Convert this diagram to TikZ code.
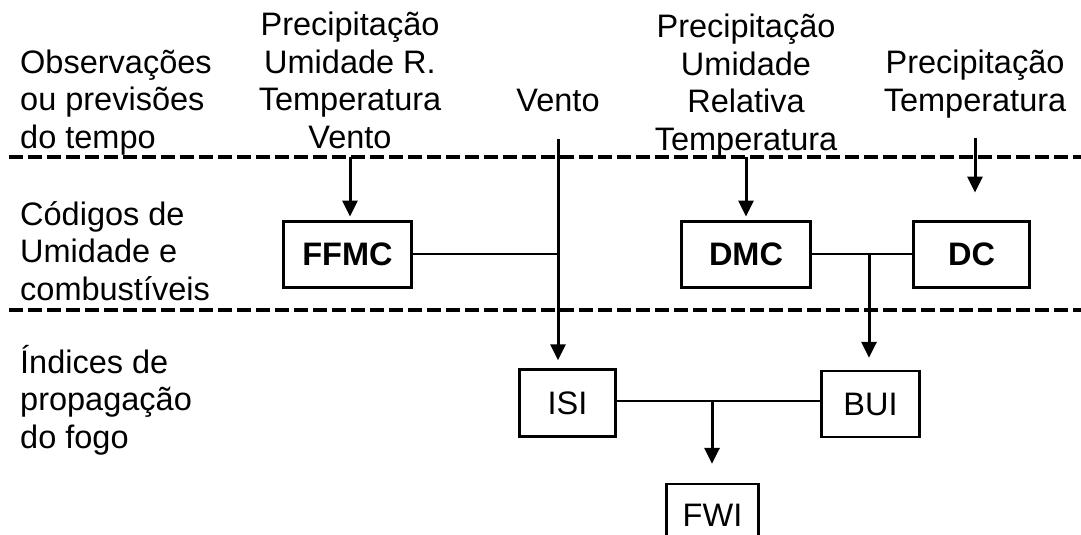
\documentclass[tikz,border=0pt]{standalone}
\usepackage{fontspec}
\setmainfont{Liberation Sans}
\usetikzlibrary{arrows.meta}

\begin{document}
\begin{tikzpicture}
	[ x=1pt, y=-1pt
	, font=\fontsize{32.5}{37.5}\selectfont
	, weather/.style={inner sep=0, align=center, anchor=base}
	, rowname/.style={inner sep=0, align=left, anchor=base west}
	, codebox/.style={draw, line width=3pt, font=\fontsize{32.5}{37.5}\selectfont\bfseries, inner sep=0, minimum height=66pt}
	, indexbox/.style={draw, line width=2.3pt, inner sep=0, minimum height=66pt}
	, feed/.style={line width=3pt, -{Triangle[length=16pt, width=15pt]}}
	, link/.style={line width=1.3pt}
	, divider/.style={line width=4.5pt, dash pattern=on 14pt off 5pt}
	]
	\useasboundingbox (0, 0) rectangle (1081, 535);

	% Dividers
	\coordinate (rule1) at (9, 157);
	\coordinate (rule2) at (9, 310);
	\draw [divider] (rule1) -- (1081, 157);
	\draw [divider] (rule2) -- (1081, 310);

	% Row names (anchored on the last line)
	\node (obs)  [rowname] at (20, 148) {Observações\\ou previsões\\do tempo};
	\node (cod)  [rowname] at (20, 300) {Códigos de\\Umidade e\\combustíveis};
	\node (ind)  [rowname] at (20, 448) {Índices de\\propagação\\do fogo};

	% Weather inputs
	\node (wx1)   [weather] at (350, 148) {Precipitação\\Umidade R.\\Temperatura\\Vento};
	\node (vento) [weather] at (558, 111) {Vento};
	\node (wx3)   [weather] at (746, 150) {Precipitação\\Umidade\\Relativa\\Temperatura};
	\node (wx4)   [weather] at (975, 111) {Precipitação\\Temperatura};

	% Codes
	\node (ffmc)
	      [ codebox
	      , minimum width=128pt
	      ]
	      at (347.5, 254)
	      {FFMC};
	\node (dmc)
	      [ codebox
	      , minimum width=129pt
	      ]
	      at (746, 254)
	      {DMC};
	\node (dc)
	      [ codebox
	      , minimum width=116pt
	      ]
	      at (971.5, 254)
	      {DC};

	% Indices
	\node (isi)
	      [ indexbox
	      , minimum width=96pt
	      , minimum height=67pt
	      ]
	      at (567.5, 403)
	      {ISI};
	\node (bui)
	      [ indexbox
	      , minimum width=98pt
	      ]
	      at (870.5, 404)
	      {BUI};
	\node (fwi)
	      [ indexbox
	      , minimum width=92pt
	      , minimum height=62pt
	      ]
	      at (712.5, 515)
	      {FWI};

	% Junctions
	\coordinate (jdc)  at (869, 254);
	\coordinate (jisi) at (712, 401);

	% Links
	\draw [link] (ffmc.east) -- (ffmc.east -| vento.south);
	\draw [link] (dmc.east) -- (dc.west);
	\draw [link] (isi.east |- jisi) -- (bui.west |- jisi);

	% Arrows
	\draw [feed, shorten >=3pt]  (wx1.south |- rule1) -- (wx1.south |- ffmc.north);
	\draw [feed, shorten <=27pt, shorten >=8pt] (vento.south) -- (vento.south |- isi.north);
	\draw [feed, shorten >=3pt]  (wx3.south) -- (dmc.north);
	\draw [feed, shorten <=20pt, shorten >=27pt] (wx4.south) -- (wx4.south |- dc.north);
	\draw [feed, shorten >=12pt] (jdc) -- (jdc |- bui.north);
	\draw [feed, shorten >=19pt] (jisi) -- (jisi |- fwi.north);
\end{tikzpicture}
\end{document}
